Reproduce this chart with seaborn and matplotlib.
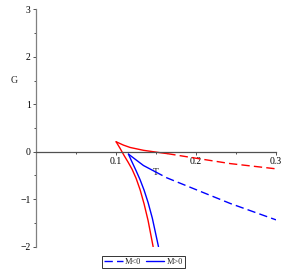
import matplotlib
matplotlib.use("Agg")
import matplotlib.pyplot as plt
import seaborn as sns
from matplotlib.lines import Line2D
from matplotlib.ticker import MultipleLocator

# red branch (cusp at T ~ 0.1)
red_lower_T = [0.1, 0.105, 0.110, 0.115, 0.120, 0.125, 0.130, 0.135, 0.140, 0.1463]
red_lower_G = [0.21, 0.07, -0.08, -0.22, -0.37, -0.56, -0.80, -1.10, -1.45, -2.0]
red_upper_T = [0.1, 0.1091, 0.1175, 0.1342, 0.155, 0.164]
red_upper_G = [0.21, 0.14, 0.09, 0.03, -0.02, -0.04]
red_dash_T = [0.164, 0.2011, 0.2428, 0.3]
red_dash_G = [-0.04, -0.14, -0.25, -0.36]

# blue branch (cusp at T ~ 0.115)
blue_lower_T = [0.1154, 0.120, 0.125, 0.130, 0.135, 0.140, 0.1453, 0.153]
blue_lower_G = [-0.05, -0.22, -0.40, -0.59, -0.81, -1.07, -1.40, -2.0]
blue_upper_T = [0.1154, 0.1342, 0.1488]
blue_upper_G = [-0.05, -0.29, -0.42]
blue_dash_T = [0.1488, 0.1635, 0.2002, 0.2428, 0.3]
blue_dash_G = [-0.42, -0.55, -0.80, -1.09, -1.435]

RED = "#ff0000"
BLUE = "#0000ff"
DASH = (6, 3)

sns.set_theme(style="white")
plt.rcParams["font.family"] = ["Liberation Serif", "DejaVu Serif"]

fig = plt.figure(figsize=(2.89, 2.71), dpi=100)
ax = fig.add_axes([0.1251, 0.0897, 0.830, 0.876])


def curve(xs, ys, color, dashed=False):
    sns.lineplot(x=xs, y=ys, ax=ax, sort=False, estimator=None, color=color, lw=1.0,
                 legend=False)
    if dashed:
        ax.lines[-1].set_dashes(DASH)


curve(red_lower_T, red_lower_G, RED)
curve(red_upper_T, red_upper_G, RED)
curve(red_dash_T, red_dash_G, RED, dashed=True)
curve(blue_lower_T, blue_lower_G, BLUE)
curve(blue_upper_T, blue_upper_G, BLUE)
curve(blue_dash_T, blue_dash_G, BLUE, dashed=True)

ax.set_xlim(0, 0.3)
ax.set_ylim(-2, 3)
ax.spines["top"].set_visible(False)
ax.spines["right"].set_visible(False)
ax.spines["bottom"].set_position(("data", 0))
ax.spines["left"].set_color("#808080")
ax.spines["bottom"].set_color("#505050")
ax.spines["left"].set_linewidth(0.9)
ax.spines["bottom"].set_linewidth(0.9)

ax.xaxis.set_minor_locator(MultipleLocator(0.05))
ax.yaxis.set_minor_locator(MultipleLocator(0.5))
ax.set_xticks([0.1, 0.2, 0.3])
ax.set_xticklabels(["0.1", "0.2", "0.3"])
ax.set_yticks([-2, -1, 0, 1, 2, 3])
ax.set_yticklabels(["\u22122", "\u22121", "0", "1", "2", "3"])
ax.tick_params(which="both", direction="out", length=2.5, width=0.7, colors="#505050",
               labelcolor="black", labelsize=7, pad=1.5, left=True, bottom=True)
ax.tick_params(which="minor", length=1.5)

ax.set_xlabel("T", fontsize=7)
ax.xaxis.set_label_coords(0.5, 0.33)
ax.set_ylabel("G", fontsize=7, rotation=0, va="center", ha="center")
ax.yaxis.set_label_coords(-0.092, 0.70)

handles = [
    Line2D([], [], color=BLUE, lw=1.0, dashes=DASH),
    Line2D([], [], color=BLUE, lw=1.0),
]
leg = fig.legend(handles, ["M<0", "M>0"], loc="center", bbox_to_anchor=(0.4965, 0.033),
                 ncol=2, fontsize=6, frameon=True, fancybox=False, handlelength=2.2,
                 handletextpad=0.3, columnspacing=0.5, borderpad=0.25, borderaxespad=0)
leg.get_frame().set_edgecolor("black")
leg.get_frame().set_linewidth(0.7)

fig.savefig("out.png", dpi=100)
